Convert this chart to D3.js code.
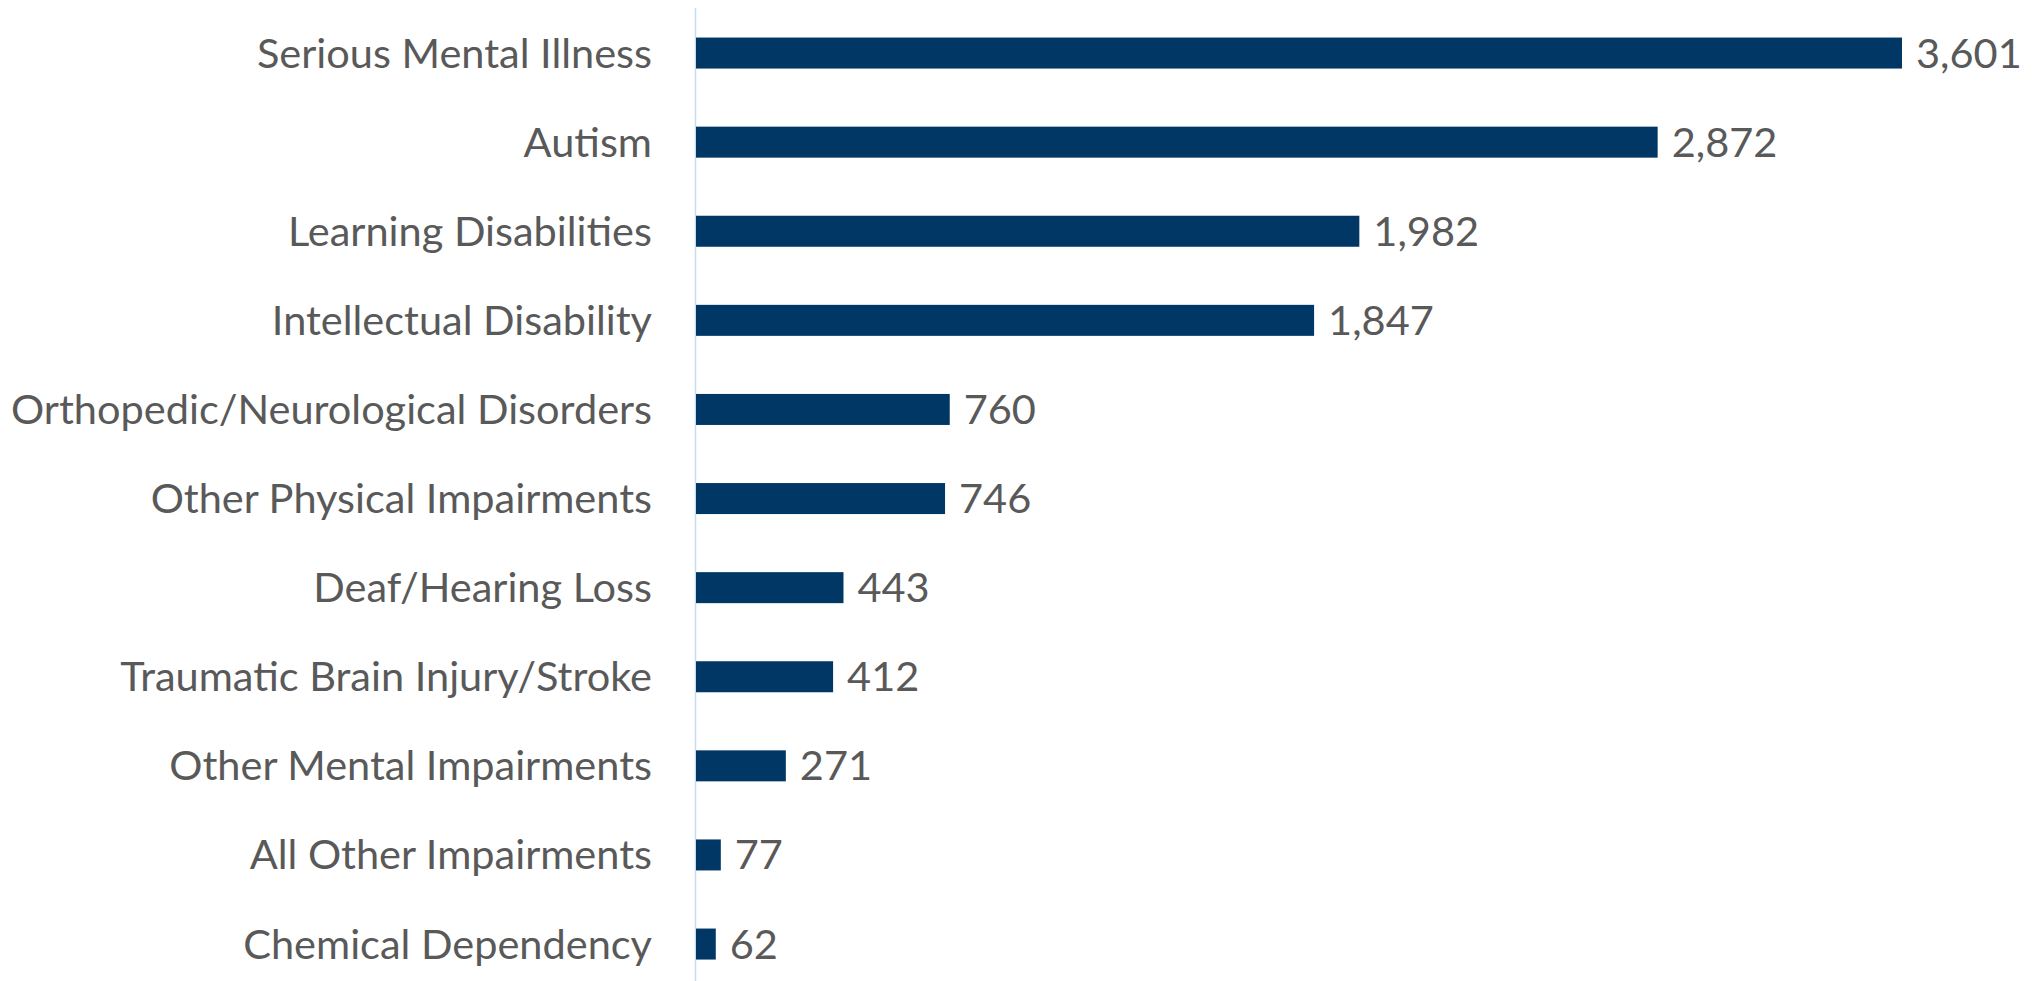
<!DOCTYPE html>
<html>
<head>
<meta charset="utf-8">
<script src="https://cdn.jsdelivr.net/npm/d3@7"></script>
<style>
  html, body { margin: 0; padding: 0; background: #fff; }
  svg { display: block; }
</style>
</head>
<body>
<svg id="chart" width="2033" height="981"></svg>
<script>
const categories = [
  "Serious Mental Illness",
  "Autism",
  "Learning Disabilities",
  "Intellectual Disability",
  "Orthopedic/Neurological Disorders",
  "Other Physical Impairments",
  "Deaf/Hearing Loss",
  "Traumatic Brain Injury/Stroke",
  "Other Mental Impairments",
  "All Other Impairments",
  "Chemical Dependency"
];
const values = [3601, 2872, 1982, 1847, 760, 746, 443, 412, 271, 77, 62];

const W = 2033, H = 981;
const svg = d3.select("#chart");

const x = d3.scaleLinear().domain([0, 3601]).range([695, 1902]);
const y = d3.scaleBand().domain(categories).range([8.5, 988.6]).paddingInner(0.652).paddingOuter(0.326);

const fontFamily = "Lato, 'Open Sans', sans-serif";
const textColor = "#595959";
const fontSize = 41.5;

// axis line
svg.append("line")
  .attr("x1", x(0) + 0.5).attr("x2", x(0) + 0.5)
  .attr("y1", 8).attr("y2", H)
  .attr("stroke", "#c5ddf3").attr("stroke-width", 1.5);

// bars
svg.selectAll("rect.bar").data(values).join("rect")
  .attr("class", "bar")
  .attr("x", x(0) + 1)
  .attr("y", (d, i) => y(categories[i]))
  .attr("width", d => x(d) - x(0) - 1)
  .attr("height", y.bandwidth())
  .attr("fill", "#003764");

// category labels (y axis)
const yAxis = d3.axisLeft(y).tickSize(0).tickPadding(0);
const gy = svg.append("g").attr("transform", `translate(652,0)`).call(yAxis);
gy.select(".domain").remove();
gy.selectAll("text")
  .attr("font-family", fontFamily)
  .attr("font-size", fontSize)
  .attr("fill", textColor)
  .attr("dy", "0.35em");

// value labels
const fmt = d3.format(",");
svg.selectAll("text.val").data(values).join("text")
  .attr("class", "val")
  .attr("x", d => x(d) + 14)
  .attr("y", (d, i) => y(categories[i]) + y.bandwidth() / 2)
  .attr("dy", "0.35em")
  .attr("font-family", fontFamily)
  .attr("font-size", fontSize)
  .attr("fill", textColor)
  .text(d => fmt(d));
</script>
</body>
</html>
